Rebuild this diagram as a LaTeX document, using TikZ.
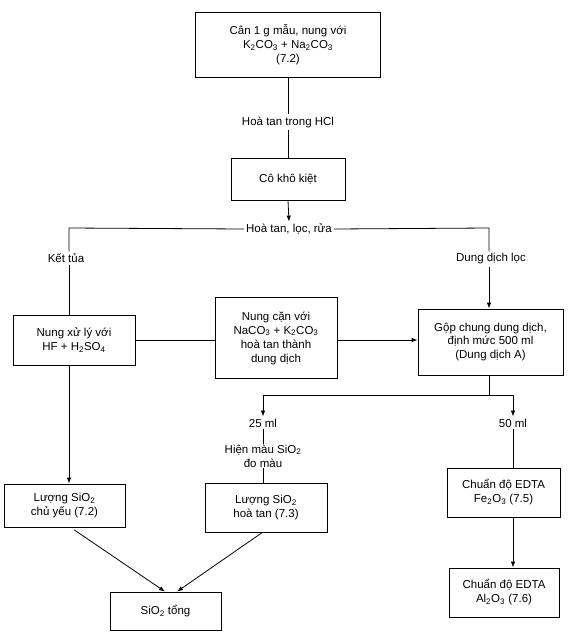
\documentclass[tikz,border=0pt]{standalone}
\usepackage{fontspec}
\setmainfont{Liberation Sans}
\usetikzlibrary{arrows.meta}
\newcommand{\sbs}[1]{\textsubscript{#1}}
\begin{document}
\begin{tikzpicture}[x=1pt,y=-1pt,
  every node/.style={font=\fontsize{11.5}{14}\selectfont, align=center},
  box/.style={draw, line width=0.8pt, inner sep=2pt},
  lbl/.style={fill=white, inner sep=2pt},
  ln/.style={line width=0.8pt},
  arr/.style={line width=0.8pt, -{Latex[length=6pt,width=4.5pt]}}]
\useasboundingbox (0,0) rectangle (576,641);
% boxes
\node[box, minimum width=185pt, minimum height=65pt] (b1) at (288,44.5) {Cân 1 g mẫu, nung với\\K\sbs{2}CO\sbs{3} + Na\sbs{2}CO\sbs{3}\\(7.2)};
\node[box, minimum width=114pt, minimum height=42pt] (b2) at (288,179) {Cô khô kiệt};
\node[lbl] (hcl) at (288,122) {Hoà tan trong HCl};
\node[lbl] (split) at (289,229) {Hoà tan, lọc, rửa};
\coordinate (cl) at (69,228);
\coordinate (cr) at (489,228);
\node[lbl] (kt) at (66,258) {Kết tủa};
\node[lbl] (ddl) at (491,259) {Dung dịch lọc};
\node[box, minimum width=122pt, minimum height=50pt] (b3) at (74,340) {Nung xử lý với\\HF + H\sbs{2}SO\sbs{4}};
\node[box, minimum width=122pt, minimum height=81pt] (b4) at (276,338) {Nung cặn với\\NaCO\sbs{3} + K\sbs{2}CO\sbs{3}\\hoà tan thành\\dung dịch};
\node[box, minimum width=145pt, minimum height=66pt] (b5) at (490.5,342) {Gộp chung dung dịch,\\định mức 500 ml\\(Dung dịch A)};
\coordinate (s2) at (489,395);
\coordinate (l2) at (263,395);
\coordinate (r2) at (513,395);
\node[lbl] (m25) at (263,423) {25 ml};
\node[lbl] (m50) at (513,423) {50 ml};
\node[lbl, inner sep=1pt] (hien) at (263,456) {Hiện màu SiO\sbs{2}\\đo màu};
\node[box, minimum width=122pt, minimum height=49pt] (b6) at (266,507.5) {Lượng SiO\sbs{2}\\hoà tan (7.3)};
\node[box, minimum width=121pt, minimum height=43pt] (b7) at (64.5,505.5) {Lượng SiO\sbs{2}\\chủ yếu (7.2)};
\node[box, minimum width=111pt, minimum height=38pt] (b8) at (165.5,611) {SiO\sbs{2} tổng};
\node[box, minimum width=113pt, minimum height=49pt] (b9) at (503.5,492.5) {Chuẩn độ EDTA\\Fe\sbs{2}O\sbs{3} (7.5)};
\node[box, minimum width=110pt, minimum height=49pt] (b10) at (504,592.5) {Chuẩn độ EDTA\\Al\sbs{2}O\sbs{3} (7.6)};
% connectors
\draw[ln] (b1.south) -- (hcl.north);
\draw[ln] (hcl.south) -- (b2.north);
\draw[arr] (b2.south) -- (split.north);
\draw[ln] (split.west) -- (cl) -- (kt.north -| cl);
\draw[ln] (split.east) -- (cr) -- (ddl.north -| cr);
\draw[ln] (kt.south -| cl) -- (b3.north -| cl);
\draw[arr] (ddl.south -| cr) -- (b5.north -| cr);
\draw[ln] (b3.east |- 0,340) -- (b4.west |- 0,340);
\draw[arr] (b4.east |- 0,340) -- (b5.west |- 0,340);
\draw[arr] (b3.south -| cl) -- (b7.north -| cl);
\draw[ln] (b5.south -| s2) -- (s2);
\draw[arr] (s2) -- (l2) -- (m25.north);
\draw[arr] (s2) -- (r2) -- (m50.north);
\draw[ln] (m25.south) -- (hien.north);
\draw[ln] (hien.south) -- (b6.north -| hien);
\draw[ln] (m50.south) -- (b9.north -| m50);
\draw[arr] (b9.south -| m50) -- (b10.north -| m50);
\draw[arr, shorten <=5pt] (70,527) -- (b8.north -| 165,0);
\draw[arr, shorten <=1pt] (263,532) -- (b8.north -| 177,0);
\end{tikzpicture}
\end{document}
